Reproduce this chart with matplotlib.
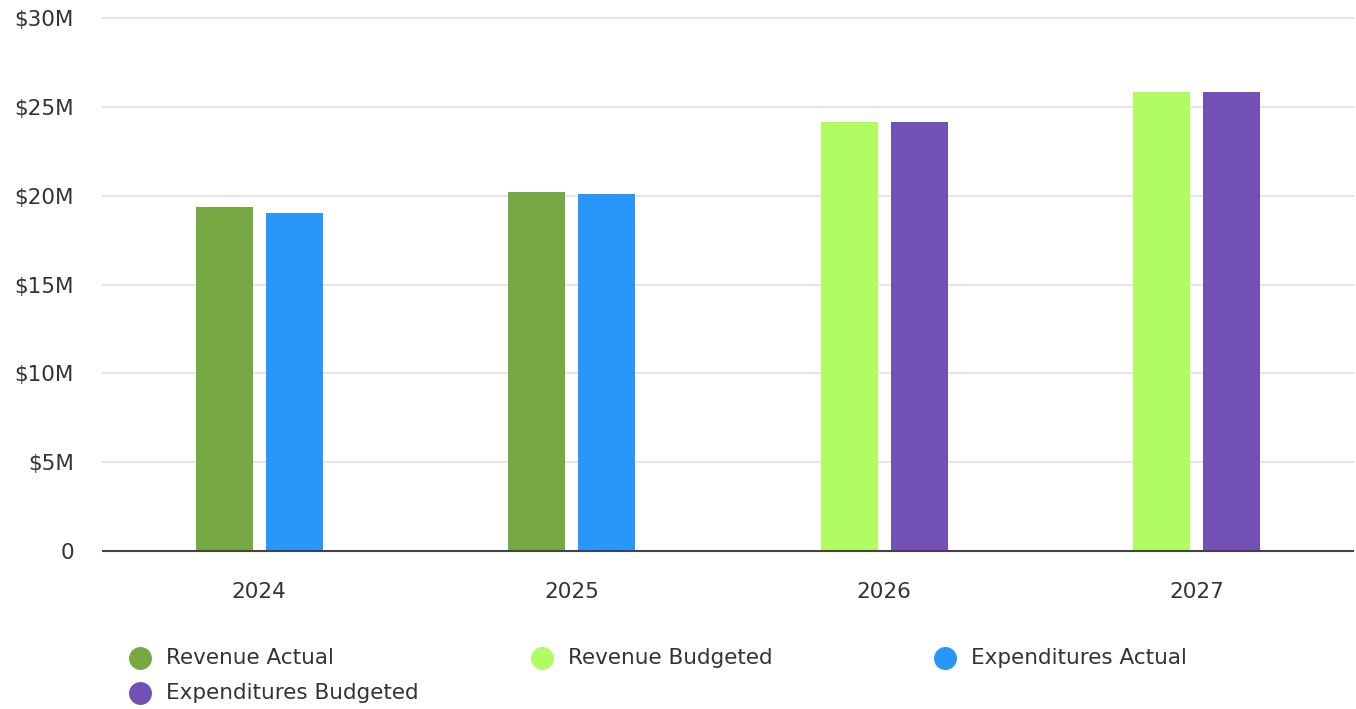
import matplotlib
matplotlib.use("Agg")
import matplotlib.pyplot as plt
from matplotlib.lines import Line2D
import numpy as np

plt.rcParams['font.family'] = ['DejaVu Sans']

years = ["2024", "2025", "2026", "2027"]
revenue_actual = [19.35, 20.18, np.nan, np.nan]
revenue_budgeted = [np.nan, np.nan, 24.13, 25.83]
expenditures_actual = [19.03, 20.1, np.nan, np.nan]
expenditures_budgeted = [np.nan, np.nan, 24.13, 25.83]
y_ticks = [0, 5, 10, 15, 20, 25, 30]
y_tick_labels = ["0", "$5M", "$10M", "$15M", "$20M", "$25M", "$30M"]

series_names = ["Revenue Actual", "Revenue Budgeted", "Expenditures Actual", "Expenditures Budgeted"]
colors = ["#76a943", "#b0fc62", "#2896fa", "#7350b5"]

W, H = 1356, 709
fig = plt.figure(figsize=(W / 100, H / 100), dpi=100)
ax = fig.add_axes([103 / W, 1 - 551 / H, 1250 / W, (551 - 18) / H])

x = np.arange(len(years))
bw = 57 / 312.5
off = 35 / 312.5
ax.bar(x - off, revenue_actual, bw, color=colors[0], zorder=3)
ax.bar(x - off, revenue_budgeted, bw, color=colors[1], zorder=3)
ax.bar(x + off, expenditures_actual, bw, color=colors[2], zorder=3)
ax.bar(x + off, expenditures_budgeted, bw, color=colors[3], zorder=3)

ax.set_xlim(-0.5, 3.5)
ax.set_ylim(0, 30)
ax.set_yticks(y_ticks)
ax.set_yticklabels(y_tick_labels)
ax.set_xticks(x)
ax.set_xticklabels(years)
fs = 15.5
ax.tick_params(axis='both', length=0, labelsize=fs, labelcolor="#333333")
ax.tick_params(axis='y', pad=21)
ax.tick_params(axis='x', pad=22)
ax.grid(axis='y', color="#e6e6e6", linewidth=1.5, zorder=0)
for gl in ax.get_ygridlines():
    gl.set_clip_on(False)
for s in ["top", "right", "left"]:
    ax.spines[s].set_visible(False)
ax.spines["bottom"].set_color("#444444")
ax.spines["bottom"].set_linewidth(1.5)
ax.spines["bottom"].set_zorder(4)

# legend
pos = [(140, 658), (542, 658), (945, 658), (140, 693)]
for (px, py), name, c in zip(pos, series_names, colors):
    fig.add_artist(Line2D([px / W], [1 - py / H], marker='o', markersize=15.5,
                          color=c, linestyle='None', transform=fig.transFigure))
    fig.text((px + 26) / W, 1 - py / H, name, fontsize=fs, color="#333333",
             va='center', ha='left')

fig.savefig("out.png", dpi=100)
